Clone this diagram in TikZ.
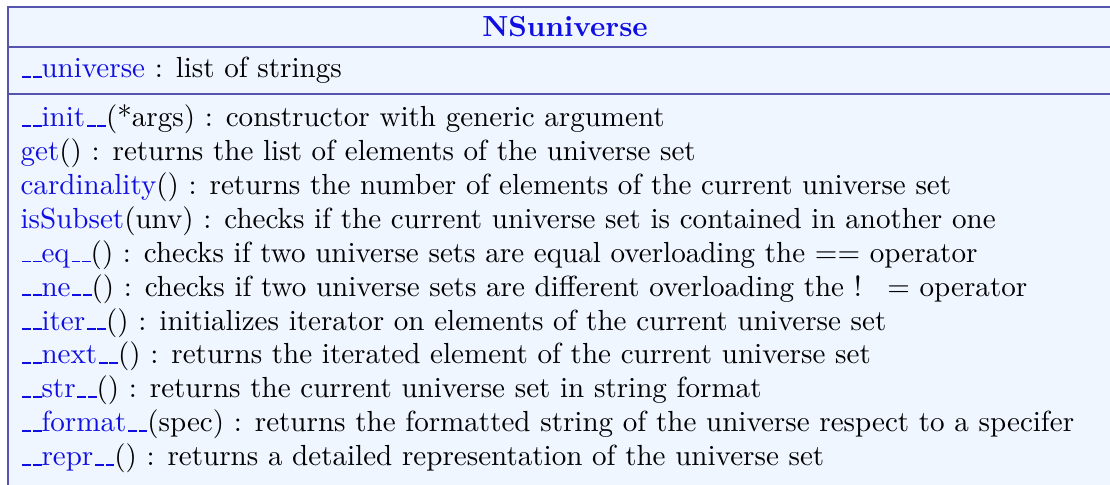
\documentclass[tikz,border=0pt]{standalone}
\usepackage{tikz}
\usetikzlibrary{positioning}
\usepackage{xcolor}
\definecolor{umlframe}{RGB}{85,85,175}
\definecolor{umlfill}{RGB}{240,246,255}
\definecolor{umlname}{RGB}{15,15,225}
% short underscore rule, as in the old OT1 \_
\newcommand{\us}{\leavevmode\kern.06em\vbox{\hrule width.3em height.6pt}}
\newcommand{\mname}[1]{\textcolor{umlname}{#1}}
\newcommand{\dund}[1]{\textcolor{umlname}{\us\us#1\us\us}}

\begin{document}
\begin{tikzpicture}[x=0.344pt,y=-0.344pt,
  member/.style={anchor=base west,inner sep=0pt,font=\normalsize},
  compart/.style={draw=umlframe,line width=0.7pt}]
\useasboundingbox (0,0) rectangle (1110,485);
\clip (0,0) rectangle (1110,485);
% class frame and compartments
\draw[compart,fill=umlfill] (8.3,6.8) rectangle (1125,505);
\draw[compart] (8.3,47.3) -- (1125,47.3);
\draw[compart] (8.3,94) -- (1125,94);
\node[font=\bfseries,text=umlname,inner sep=0pt,anchor=base] (cls) at (565,36.7) {NSuniverse};
% attributes
\node[member] (attr) at (20,78) {\mname{\us\us universe} : list of strings};
% operations
\node[member] (init) at (20,126.7) {\dund{init}(*args) : constructor with generic argument};
\node[member] (get) at (20,160.6) {\mname{get}() : returns the list of elements of the universe set};
\node[member] (card) at (20,194.5) {\mname{cardinality}() : returns the number of elements of the current universe set};
\node[member] (subset) at (20,228.4) {\mname{isSubset}(unv) : checks if the current universe set is contained in another one};
\node[member] (eq) at (20,262.3) {\dund{eq}() : checks if two universe sets are equal overloading the $==$ operator};
\node[member] (ne) at (20,296.2) {\dund{ne}() : checks if two universe sets are different overloading the $!\hspace{6pt}=$ operator};
\node[member] (iter) at (20,330.1) {\dund{iter}() : initializes iterator on elements of the current universe set};
\node[member] (next) at (20,364) {\dund{next}() : returns the iterated element of the current universe set};
\node[member] (str) at (20,397.9) {\dund{str}() : returns the current universe set in string format};
\node[member] (fmt) at (20,431.8) {\dund{format}(spec) : returns the formatted string of the universe respect to a specifer};
\node[member] (repr) at (20,465.7) {\dund{repr}() : returns a detailed representation of the universe set};
\end{tikzpicture}
\end{document}
